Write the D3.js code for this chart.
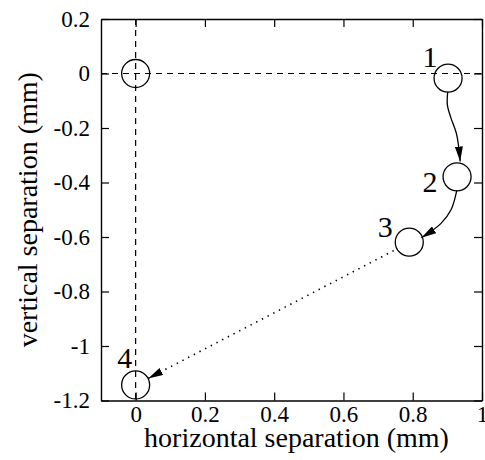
<!DOCTYPE html>
<html><head><meta charset="utf-8">
<script src="https://cdn.jsdelivr.net/npm/d3@7"></script>
<style>
body{margin:0;background:#fff;}
svg text{font-family:"Liberation Serif","Times New Roman",serif !important;fill:#000;}
</style></head>
<body><svg id="c" width="485" height="460"></svg>
<script>
// ---- data ----
const xTicks = [0, 0.2, 0.4, 0.6, 0.8, 1];
const xTickLabels = ["0", "0.2", "0.4", "0.6", "0.8", "1"];
const yTicks = [0.2, 0, -0.2, -0.4, -0.6, -0.8, -1, -1.2];
const yTickLabels = ["0.2", "0", "-0.2", "-0.4", "-0.6", "-0.8", "-1", "-1.2"];
const pointNames = ["origin", "1", "2", "3", "4"];
const pointX = [0, 0.902, 0.928, 0.790, 0];
const pointY = [0, -0.017, -0.379, -0.619, -1.143];
// arrow paths (data units)
const arrow12 = [[0.901,-0.067],[0.900,-0.115],[0.910,-0.162],[0.927,-0.225],[0.937,-0.323]];
const arrow23 = [[0.927,-0.430],[0.911,-0.499],[0.881,-0.551],[0.825,-0.603]];
const arrow34 = [[0.745,-0.650],[0.036,-1.119]];
const xTitle = "horizontal separation (mm)";
const yTitle = "vertical separation (mm)";

// ---- layout ----
const svg = d3.select("#c");
const x = d3.scaleLinear().domain([-0.1, 1]).range([101, 482]);
const y = d3.scaleLinear().domain([-1.2, 0.2]).range([400.5, 19]);
const labelOffsets = [null, [-18, -11], [-27, 15], [-24, -5], [-11, -17]];
const FONT = '"Liberation Serif","Times New Roman",serif';

// dashed reference lines
svg.append("line").attr("x1", x(-0.1)).attr("x2", x(1)).attr("y1", y(0)).attr("y2", y(0))
  .attr("stroke", "#000").attr("stroke-width", 1.2).attr("stroke-dasharray", "6,5");
svg.append("line").attr("x1", x(0)).attr("x2", x(0)).attr("y1", y(0.2)).attr("y2", y(-1.2))
  .attr("stroke", "#000").attr("stroke-width", 1.2).attr("stroke-dasharray", "6,5");

// axes
function styleAxis(g){
  g.attr("font-family", null);
  g.selectAll(".domain").attr("stroke", "#000").attr("stroke-width", 1.4);
  g.selectAll(".tick line").attr("stroke", "#000").attr("stroke-width", 1.2);
  g.selectAll(".tick text").style("font-size", "23px").style("font-family", FONT);
}
const gB = svg.append("g").attr("transform", `translate(0,${y(-1.2)})`)
  .call(d3.axisBottom(x).tickValues(xTicks).tickSize(-8).tickSizeOuter(0).tickPadding(5)
    .tickFormat((d, i) => xTickLabels[i]));
styleAxis(gB);
const gT = svg.append("g").attr("transform", `translate(0,${y(0.2)})`)
  .call(d3.axisTop(x).tickValues(xTicks).tickSize(-8).tickSizeOuter(0).tickFormat(""));
styleAxis(gT);
const gL = svg.append("g").attr("transform", `translate(${x(-0.1)},0)`)
  .call(d3.axisLeft(y).tickValues(yTicks).tickSize(-8).tickSizeOuter(0).tickPadding(11)
    .tickFormat((d, i) => yTickLabels[i]));
styleAxis(gL);
const gR = svg.append("g").attr("transform", `translate(${x(1)},0)`)
  .call(d3.axisRight(y).tickValues(yTicks).tickSize(-8).tickSizeOuter(0).tickFormat(""));
styleAxis(gR);

// axis titles
svg.append("text").attr("x", (x(-0.1) + x(1)) / 2 + 5).attr("y", 447)
  .attr("text-anchor", "middle").style("font-size", "28px").text(xTitle);
svg.append("text").attr("transform", `translate(37,${(y(0.2) + y(-1.2)) / 2}) rotate(-90)`)
  .attr("text-anchor", "middle").style("font-size", "28px").text(yTitle);

// arrow marker
const defs = svg.append("defs");
defs.append("marker").attr("id", "ah").attr("viewBox", "0 0 15 8")
  .attr("refX", 15).attr("refY", 4).attr("markerWidth", 15).attr("markerHeight", 8)
  .attr("markerUnits", "userSpaceOnUse").attr("orient", "auto")
  .append("path").attr("d", "M0,0 L15,4 L0,8 Z").attr("fill", "#000");

const line = d3.line().x(d => x(d[0])).y(d => y(d[1])).curve(d3.curveCatmullRom);
svg.append("path").attr("d", line(arrow12)).attr("fill", "none").attr("stroke", "#000")
  .attr("stroke-width", 1.3).attr("marker-end", "url(#ah)");
svg.append("path").attr("d", line(arrow23)).attr("fill", "none").attr("stroke", "#000")
  .attr("stroke-width", 1.3).attr("marker-end", "url(#ah)");
svg.append("path").attr("d", d3.line().x(d => x(d[0])).y(d => y(d[1]))(arrow34))
  .attr("fill", "none").attr("stroke", "#000").attr("stroke-width", 1.6)
  .attr("stroke-dasharray", "1.4,5").attr("marker-end", "url(#ah)");

// circles
const pts = pointNames.map((n, i) => ({n, x: pointX[i], y: pointY[i], i}));
svg.selectAll("circle.p").data(pts).enter().append("circle").attr("class", "p")
  .attr("cx", d => x(d.x)).attr("cy", d => y(d.y)).attr("r", 14)
  .attr("fill", "none").attr("stroke", "#000").attr("stroke-width", 1.3);

// labels
svg.selectAll("text.lab").data(pts.filter(d => d.i > 0)).enter().append("text").attr("class", "lab")
  .attr("x", d => x(d.x) + labelOffsets[d.i][0]).attr("y", d => y(d.y) + labelOffsets[d.i][1])
  .attr("text-anchor", "middle").style("font-size", "30px").text(d => d.n);
</script></body></html>
